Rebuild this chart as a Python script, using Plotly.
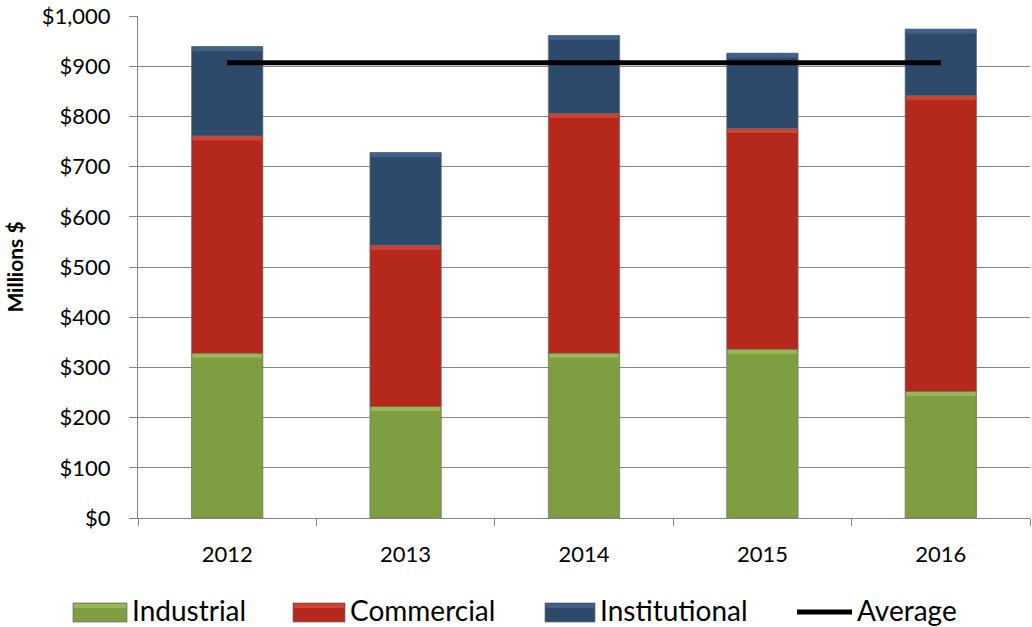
import plotly.graph_objects as go

# Annual spending by sector, millions of dollars
years = ["2012", "2013", "2014", "2015", "2016"]
industrial = [328, 222, 328, 336, 252]
commercial = [433, 321, 478, 440, 589]
institutional = [178, 185, 155, 150, 133]
average = [907, 907, 907, 907, 907]

y_ticks = [0, 100, 200, 300, 400, 500, 600, 700, 800, 900, 1000]
y_tick_text = ["$0", "$100", "$200", "$300", "$400", "$500",
               "$600", "$700", "$800", "$900", "$1,000"]

GREEN, GREEN_HI = "#7E9E42", "#97B857"
RED, RED_HI = "#B5281C", "#CF4234"
BLUE, BLUE_HI = "#2E4A6B", "#42618A"
EDGE = "rgba(110,110,110,0.7)"
FONT = "Lato, 'Open Sans', sans-serif"
BAR_W = 0.4
BEVEL = 9  # height of the lighter top band, in axis units

fig = go.Figure()
base = [0] * len(years)
series = [("Industrial", industrial, GREEN, GREEN_HI),
          ("Commercial", commercial, RED, RED_HI),
          ("Institutional", institutional, BLUE, BLUE_HI)]
for name, vals, col, hi in series:
    fig.add_trace(go.Bar(
        x=years, y=vals, base=base, name=name, showlegend=False, width=BAR_W,
        marker=dict(color=col, line=dict(color=EDGE, width=1)),
    ))
    tops = [b + v for b, v in zip(base, vals)]
    # lighter band along the top edge of each segment
    fig.add_trace(go.Bar(
        x=years, y=[BEVEL] * len(years), base=[t - BEVEL for t in tops],
        showlegend=False, hoverinfo="skip", width=BAR_W - 0.012,
        marker=dict(color=hi, line=dict(width=0)),
    ))
    base = tops

fig.add_trace(go.Scatter(
    x=years, y=average, name="Average", mode="lines", showlegend=False,
    line=dict(color="black", width=5),
))

# Figure geometry (pixels) used to place the hand-built legend
W, H = 1032, 627
ML, MR, MT, MB = 138, 2, 16, 109
PW, PH = W - ML - MR, H - MT - MB


def px_x(px):
    return (px - ML) / PW


def px_y(py):
    return (H - MB - py) / PH


legend_items = [
    ("Industrial", GREEN, GREEN_HI, "box", 73, 127),
    ("Commercial", RED, RED_HI, "box", 293, 345),
    ("Institutional", BLUE, BLUE_HI, "box", 545, 595),
    ("Average", "black", None, "line", 797, 852),
]
shapes = []
annotations = []
for label, col, hi, kind, x0, x1 in legend_items:
    if kind == "box":
        shapes.append(dict(type="rect", xref="paper", yref="paper",
                           x0=px_x(x0), x1=px_x(x1), y0=px_y(622), y1=px_y(603),
                           fillcolor=col, line=dict(color=EDGE, width=1)))
        shapes.append(dict(type="rect", xref="paper", yref="paper",
                           x0=px_x(x0 + 1), x1=px_x(x1 - 1), y0=px_y(608), y1=px_y(604),
                           fillcolor=hi, line=dict(width=0)))
    else:
        shapes.append(dict(type="line", xref="paper", yref="paper",
                           x0=px_x(x0), x1=px_x(x1), y0=px_y(612), y1=px_y(612),
                           line=dict(color="black", width=5)))
    annotations.append(dict(text=label, xref="paper", yref="paper",
                            x=px_x(x1 + 3), y=px_y(610), xanchor="left",
                            yanchor="middle", showarrow=False,
                            font=dict(family=FONT, size=28, color="black")))

fig.update_layout(
    width=W, height=H,
    margin=dict(l=ML, r=MR, t=MT, b=MB, pad=0),
    barmode="overlay",
    plot_bgcolor="white", paper_bgcolor="white",
    font=dict(family=FONT, size=22, color="black"),
    shapes=shapes, annotations=annotations,
    xaxis=dict(
        type="category", tickson="boundaries", ticks="outside", ticklen=7,
        tickcolor="#868686", showline=True, linecolor="#868686", linewidth=1,
        showgrid=False, ticklabelstandoff=17,
        tickfont=dict(family=FONT, size=22),
    ),
    yaxis=dict(
        range=[0, 1000], tickvals=y_ticks, ticktext=y_tick_text,
        ticks="outside", ticklen=8, tickcolor="#868686",
        showline=True, linecolor="#868686", linewidth=1,
        showgrid=True, gridcolor="#868686", gridwidth=1,
        zeroline=False, ticklabelstandoff=14,
        tickfont=dict(family=FONT, size=22),
        title=dict(text="<b>Millions $</b>", standoff=12,
                   font=dict(family=FONT, size=21)),
    ),
)

fig.write_html("out.html")
